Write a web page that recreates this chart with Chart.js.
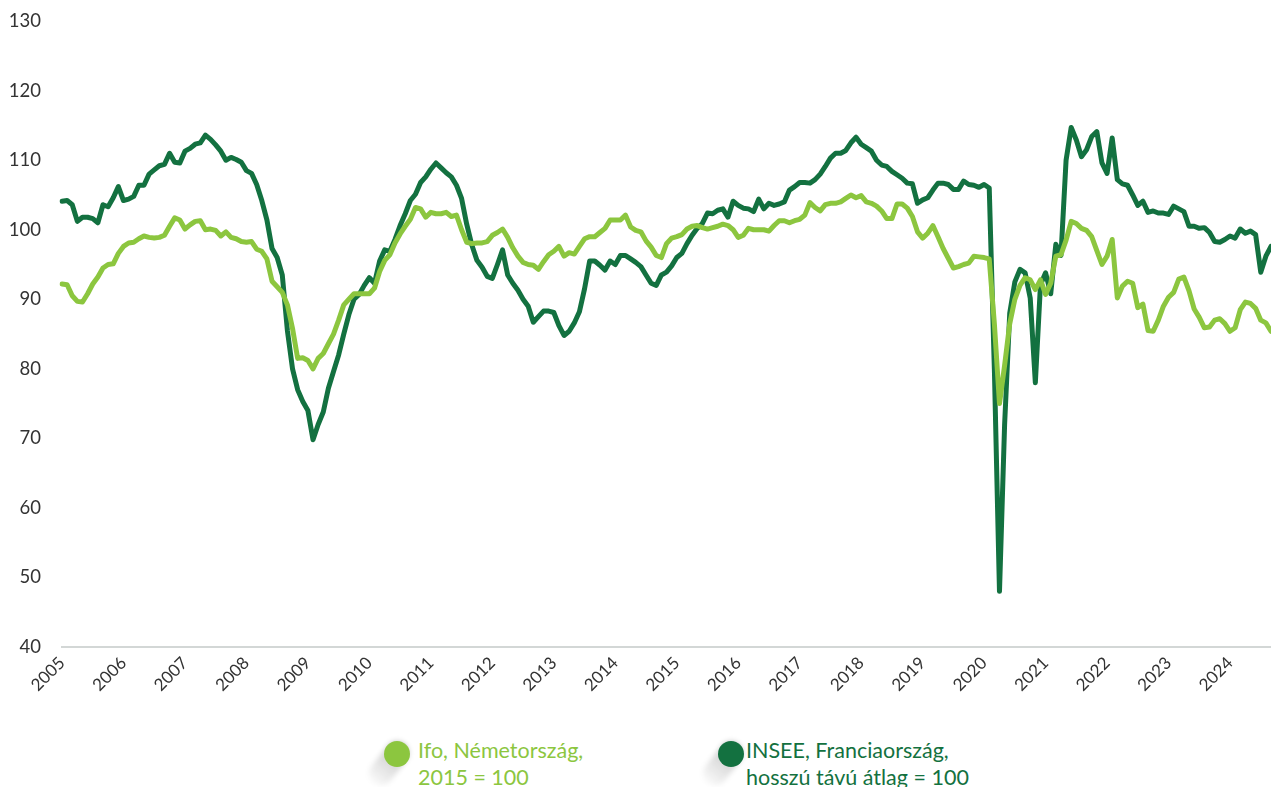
<!DOCTYPE html>
<html>
<head>
<meta charset="utf-8">
<script src="https://cdn.jsdelivr.net/npm/chart.js@4"></script>
<style>
  body { margin: 0; background: #fff; width: 1271px; height: 787px; overflow: hidden; font-family: Lato, "Noto Sans", sans-serif; }
  #wrap { position: absolute; left: 0; top: -11px; width: 1271px; height: 731px; }
  .leg { position: absolute; top: 740px; font-size: 21.5px; line-height: 27px; }
  .dot { position: absolute; width: 26px; height: 26px; border-radius: 50%; }
  .shadow { position: absolute; width: 24px; height: 50px; border-radius: 12px;
    background: linear-gradient(to bottom, rgba(0,0,0,0.25), rgba(0,0,0,0.02));
    transform-origin: 12px 12px; transform: rotate(38deg); filter: blur(2.5px); }
</style>
</head>
<body>
<div id="wrap"><canvas id="chart"></canvas></div>

<div class="leg" style="left:384px;">
  <div class="shadow" style="left:1px;top:1px;"></div>
  <div class="dot" style="left:0;top:1px;background:#8cc63f;"></div>
  <div style="position:absolute;left:34px;top:-3px;color:#8cc63f;white-space:nowrap;">Ifo, Németország,<br>2015 = 100</div>
</div>
<div class="leg" style="left:718px;">
  <div class="shadow" style="left:1px;top:1px;"></div>
  <div class="dot" style="left:0;top:1px;background:#137140;"></div>
  <div style="position:absolute;left:28px;top:-3px;color:#137140;white-space:nowrap;">INSEE, Franciaország,<br>hosszú távú átlag = 100</div>
</div>

<script>
// havi adatok, 2005 jan - 2024 szept
const years = [2005, 2006, 2007, 2008, 2009, 2010, 2011, 2012, 2013, 2014,
  2015, 2016, 2017, 2018, 2019, 2020, 2021, 2022, 2023, 2024];

const ifo = [
  92.2, 92.1, 90.5, 89.7, 89.6, 90.8, 92.2, 93.2, 94.5, 95.0, 95.1, 96.6,
  97.6, 98.1, 98.2, 98.7, 99.1, 98.9, 98.8, 98.9, 99.2, 100.5, 101.7, 101.4,
  100.1, 100.7, 101.2, 101.3, 100.0, 100.1, 99.9, 99.1, 99.7, 98.9, 98.7, 98.3,
  98.2, 98.3, 97.2, 96.9, 95.8, 92.6, 91.8, 91.0, 89.2, 85.8, 81.5, 81.6,
  81.2, 80.0, 81.5, 82.2, 83.6, 85.0, 87.0, 89.2, 90.0, 90.8, 90.8, 90.8,
  90.8, 91.6, 94.0, 95.6, 96.4, 98.1, 99.4, 100.5, 101.5, 103.2, 103.0, 101.8,
  102.5, 102.3, 102.3, 102.5, 101.9, 102.1, 100.0, 98.2, 98.0, 98.1, 98.1, 98.3,
  99.2, 99.6, 100.1, 98.9, 97.4, 96.2, 95.3, 95.0, 94.9, 94.3, 95.4, 96.4,
  96.9, 97.6, 96.2, 96.7, 96.5, 97.6, 98.7, 99.0, 99.0, 99.6, 100.2, 101.4,
  101.4, 101.4, 102.1, 100.4, 99.9, 99.7, 98.4, 97.5, 96.3, 96.0, 98.0, 98.8,
  99.0, 99.3, 100.1, 100.5, 100.6, 100.3, 100.1, 100.3, 100.5, 100.8, 100.6, 100.0,
  98.9, 99.2, 100.2, 100.0, 100.0, 100.0, 99.8, 100.6, 101.3, 101.3, 101.0, 101.3,
  101.5, 102.1, 103.9, 103.2, 102.7, 103.6, 103.8, 103.8, 104.0, 104.5, 105.0, 104.6,
  104.9, 104.0, 103.8, 103.4, 102.7, 101.6, 101.6, 103.7, 103.7, 103.1, 101.9, 99.7,
  98.8, 99.5, 100.6, 99.0, 97.3, 95.9, 94.5, 94.7, 95.0, 95.2, 96.2, 96.1,
  96.0, 95.8, 86.5, 75.0, 80.5, 86.5, 90.0, 92.0, 93.1, 92.8, 91.4, 92.8,
  90.7, 92.3, 96.2, 96.4, 98.5, 101.2, 100.9, 100.2, 99.9, 99.0, 97.0, 95.0,
  96.2, 98.6, 90.2, 91.9, 92.6, 92.3, 88.8, 89.3, 85.5, 85.4, 87.0, 89.0,
  90.3, 91.0, 92.9, 93.2, 91.2, 88.6, 87.4, 85.9, 86.0, 87.0, 87.2, 86.5,
  85.4, 85.9, 88.5, 89.6, 89.4, 88.7, 87.0, 86.6, 85.4
];

const insee = [
  104.1, 104.2, 103.6, 101.2, 101.8, 101.8, 101.6, 101.0, 103.6, 103.3, 104.6, 106.2,
  104.2, 104.4, 104.8, 106.4, 106.4, 108.0, 108.6, 109.2, 109.4, 111.0, 109.7, 109.6,
  111.3, 111.7, 112.3, 112.5, 113.6, 113.0, 112.2, 111.3, 110.0, 110.4, 110.1, 109.7,
  108.5, 108.1, 106.5, 104.2, 101.4, 97.3, 96.0, 93.5, 85.5, 80.0, 77.0, 75.3,
  74.0, 69.8, 72.0, 73.8, 77.2, 79.6, 82.0, 85.0, 87.8, 90.0, 90.7, 92.0,
  93.1, 92.3, 95.5, 97.1, 96.9, 98.6, 100.6, 102.3, 104.2, 105.1, 106.8, 107.6,
  108.7, 109.6, 108.9, 108.2, 107.6, 106.4, 104.5, 100.8, 97.8, 95.6, 94.6, 93.3,
  93.0, 95.0, 97.1, 93.5, 92.3, 91.3, 90.0, 89.0, 86.7, 87.5, 88.3, 88.3,
  88.1, 86.2, 84.8, 85.4, 86.6, 88.2, 91.5, 95.5, 95.5, 94.9, 94.2, 95.5,
  95.0, 96.3, 96.3, 95.8, 95.3, 94.7, 93.5, 92.3, 92.0, 93.5, 93.9, 94.8,
  96.0, 96.6, 98.0, 99.2, 100.2, 100.9, 102.4, 102.3, 102.8, 103.0, 101.8, 104.1,
  103.5, 103.1, 103.0, 102.6, 104.4, 103.0, 103.8, 103.5, 103.7, 104.0, 105.7, 106.2,
  106.8, 106.8, 106.7, 107.2, 108.0, 109.1, 110.3, 111.0, 111.0, 111.4, 112.5, 113.3,
  112.3, 111.8, 111.3, 110.0, 109.3, 109.1, 108.4, 107.9, 107.4, 106.7, 106.6, 103.8,
  104.3, 104.6, 105.7, 106.7, 106.7, 106.5, 105.8, 105.8, 107.0, 106.5, 106.4, 106.1,
  106.5, 106.0, 80.0, 48.0, 72.0, 88.0, 92.5, 94.3, 93.8, 90.2, 78.0, 92.1,
  93.8, 90.8, 97.9, 96.3, 110.0, 114.7, 112.9, 110.5, 111.5, 113.4, 114.1, 109.6,
  108.1, 113.2, 107.2, 106.6, 106.4, 105.0, 103.5, 104.1, 102.5, 102.7, 102.4, 102.4,
  102.2, 103.4, 103.0, 102.6, 100.5, 100.5, 100.2, 100.3, 99.6, 98.3, 98.2, 98.6,
  99.1, 98.8, 100.1, 99.5, 99.8, 99.3, 93.9, 96.2, 97.6
];

const yTicks = [40, 50, 60, 70, 80, 90, 100, 110, 120, 130];

// kategóriák: minden hónap, a felirat csak januárnál
const labels = [];
years.forEach(y => {
  for (let m = 1; m <= 12; m++) labels.push(y + "-" + String(m).padStart(2, "0"));
});
labels.length = insee.length;

new Chart(document.getElementById("chart"), {
  type: "line",
  data: {
    labels: labels,
    datasets: [{
      label: "Ifo, Németország, 2015 = 100",
      data: ifo,
      borderColor: "#8cc63f",
      borderWidth: 5,
      pointRadius: 0,
      tension: 0,
      borderCapStyle: "round",
      borderJoinStyle: "round"
    }, {
      label: "INSEE, Franciaország, hosszú távú átlag = 100",
      data: insee,
      borderColor: "#137140",
      borderWidth: 5,
      pointRadius: 0,
      tension: 0,
      borderCapStyle: "round",
      borderJoinStyle: "round"
    }]
  },
  options: {
    responsive: true,
    maintainAspectRatio: false,
    animation: false,
    layout: { padding: { top: 8, right: 0, left: 0, bottom: 0 } },
    plugins: { legend: { display: false }, tooltip: { enabled: false } },
    scales: {
      x: {
        offset: false,
        grid: { display: false, drawTicks: false },
        border: { display: true, color: "#d3d7d6", width: 2 },
        afterFit: s => { s.height = 73; },
        ticks: {
          autoSkip: false,
          minRotation: 45,
          maxRotation: 45,
          padding: 6,
          color: "#333",
          font: { family: "Lato", size: 17 },
          callback: (v, i) => i % 12 === 0 ? labels[i].slice(0, 4) : null
        }
      },
      y: {
        min: 40,
        max: 130,
        grid: { display: false, drawTicks: false },
        border: { display: false },
        afterFit: s => { s.width = 62; },
        afterBuildTicks: s => { s.ticks = yTicks.map(v => ({ value: v })); },
        ticks: {
          padding: 21,
          color: "#333",
          font: { family: "Lato", size: 18.5 }
        }
      }
    }
  }
});
</script>
</body>
</html>
